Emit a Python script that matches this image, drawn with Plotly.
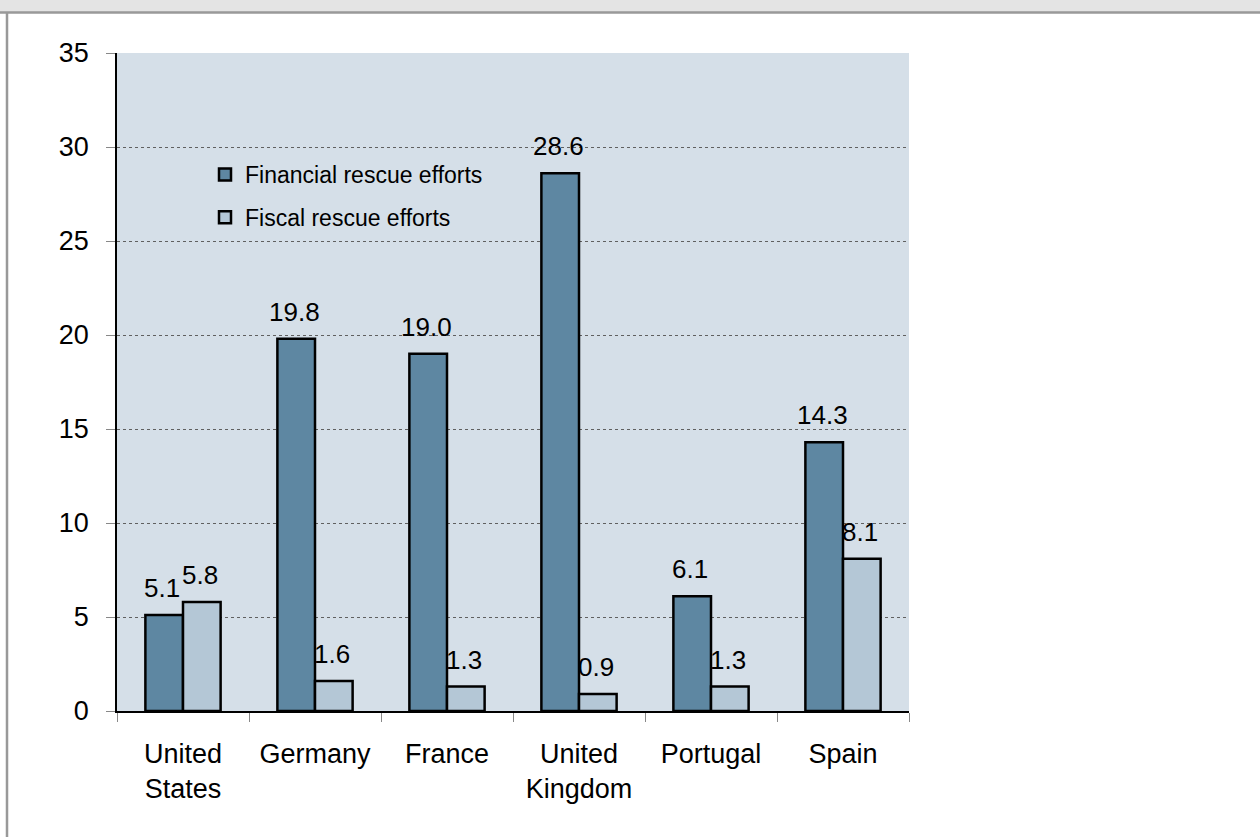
import plotly.graph_objects as go

categories = ["United<br>States", "Germany", "France", "United<br>Kingdom", "Portugal", "Spain"]
financial = [5.1, 19.8, 19.0, 28.6, 6.1, 14.3]
fiscal = [5.8, 1.6, 1.3, 0.9, 1.3, 8.1]
series_names = ["Financial rescue efforts", "Fiscal rescue efforts"]
y_ticks = [0, 5, 10, 15, 20, 25, 30, 35]

W, H = 1260, 837
L, R, T, B = 117, 351, 53, 126
plot_w = W - L - R
plot_h = H - T - B
bargap = 0.43
cat_px = plot_w / len(categories)
bar_px = cat_px * (1 - bargap) / 2

FONT = "Arial, Liberation Sans, sans-serif"
c_fin = "#5e87a2"
c_fis = "#b4c7d6"

fig = go.Figure()
fig.add_trace(go.Bar(name=series_names[0], x=categories, y=financial,
                     marker=dict(color=c_fin, line=dict(color="black", width=2.5)),
                     legendgroup="a"))
fig.add_trace(go.Bar(name=series_names[1], x=categories, y=fiscal,
                     marker=dict(color=c_fis, line=dict(color="black", width=2.5)),
                     legendgroup="b"))

for vals, sh in ((financial, -bar_px / 2), (fiscal, bar_px / 2)):
    for c, v in zip(categories, vals):
        fig.add_annotation(x=c, y=v, text=f"{v:.1f}", showarrow=False,
                           xshift=sh - 2, yshift=10, yanchor="bottom",
                           font=dict(family=FONT, size=26, color="black"))

def px2x(px):
    return (px - L) / plot_w

def px2y(py):
    return (H - B - py) / plot_h

shapes = [
    dict(type="rect", xref="paper", yref="paper", x0=px2x(-5), x1=px2x(W + 5),
         y0=px2y(12), y1=px2y(-5), fillcolor="#e4e4e4", line=dict(width=0), layer="below"),
    dict(type="line", xref="paper", yref="paper", x0=px2x(0), x1=px2x(W + 5),
         y0=px2y(12.5), y1=px2y(12.5), line=dict(color="#999999", width=2.5)),
    dict(type="line", xref="paper", yref="paper", x0=px2x(7), x1=px2x(7),
         y0=px2y(12), y1=px2y(H + 5), line=dict(color="#999999", width=2.5)),
]

fig.update_layout(
    width=W, height=H,
    margin=dict(l=L, r=R, t=T, b=B, pad=0),
    paper_bgcolor="white",
    plot_bgcolor="#d5dfe8",
    barmode="group", bargap=bargap, bargroupgap=0,
    font=dict(family=FONT, size=26, color="black"),
    shapes=shapes,
    legend=dict(x=px2x(205), y=px2y(153), xanchor="left", yanchor="top",
                bgcolor="rgba(0,0,0,0)", font=dict(family=FONT, size=23),
                traceorder="grouped", tracegroupgap=10, itemwidth=30),
    xaxis=dict(showline=True, linecolor="black", linewidth=1.5,
               ticks="outside", tickson="boundaries", ticklen=9, tickcolor="#888888",
               tickfont=dict(family=FONT, size=27), ticklabelstandoff=18,
               showgrid=False),
    yaxis=dict(range=[0, 35], tickvals=y_ticks, showline=True, linecolor="black",
               linewidth=1.5, ticks="outside", ticklen=9, tickcolor="#888888",
               tickfont=dict(family=FONT, size=27), ticklabelstandoff=12,
               showgrid=True, gridcolor="#606060", griddash="dot", gridwidth=1,
               zeroline=False),
)

fig.write_html("out.html", config={"displayModeBar": False},
               post_script="document.body.style.margin='0';")
